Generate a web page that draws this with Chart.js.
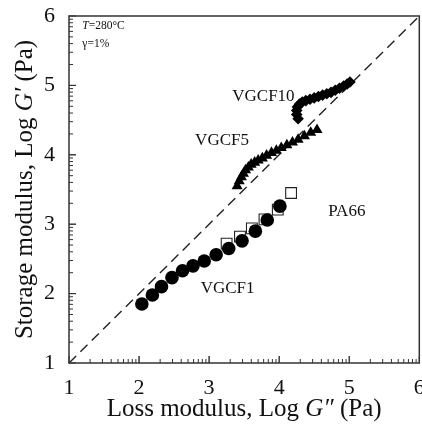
<!DOCTYPE html>
<html>
<head>
<meta charset="utf-8">
<script src="https://cdn.jsdelivr.net/npm/chart.js@4.4.1/dist/chart.umd.min.js"></script>
<style>
  html, body { margin: 0; padding: 0; background: #fff; overflow: hidden; }
  #wrap { width: 422px; height: 424px; overflow: hidden; }
  canvas { display: block; }
</style>
</head>
<body>
<div id="wrap"><canvas id="c" width="428" height="424"></canvas></div>
<script>
// log G'' (x) vs log G' (y)
const vgcf1X = [2.04, 2.19, 2.32, 2.47, 2.62, 2.77, 2.93, 3.10, 3.28, 3.47, 3.66, 3.83, 4.01]
const vgcf1Y = [1.85, 1.98, 2.10, 2.23, 2.33, 2.40, 2.47, 2.56, 2.65, 2.76, 2.90, 3.06, 3.26]

const pa66X = [3.25, 3.44, 3.61, 3.79, 3.98, 4.17]
const pa66Y = [2.72, 2.82, 2.94, 3.07, 3.21, 3.45]

const vgcf5X = [3.40, 3.43, 3.46, 3.49, 3.52, 3.56, 3.60, 3.65, 3.70, 3.76, 3.82, 3.89, 3.96, 4.03, 4.11, 4.19, 4.27, 4.36, 4.45, 4.54]
const vgcf5Y = [3.55, 3.62, 3.68, 3.73, 3.78, 3.82, 3.86, 3.89, 3.92, 3.95, 3.99, 4.03, 4.06, 4.10, 4.14, 4.18, 4.22, 4.27, 4.32, 4.36]

const vgcf10X = [4.27, 4.25, 4.25, 4.26, 4.29, 4.33, 4.38, 4.44, 4.50, 4.56, 4.62, 4.68, 4.74, 4.80, 4.86, 4.92, 4.97, 5.01]
const vgcf10Y = [4.52, 4.58, 4.64, 4.69, 4.73, 4.76, 4.78, 4.80, 4.82, 4.84, 4.86, 4.88, 4.90, 4.93, 4.96, 4.99, 5.02, 5.05]

const axisMin = 1
const axisMax = 6
const tickValues = [1, 2, 3, 4, 5, 6]

const notes = [
  { text: 'VGCF10', x: 3.33, y: 4.84 },
  { text: 'VGCF5', x: 2.80, y: 4.21 },
  { text: 'PA66', x: 4.70, y: 3.18 },
  { text: 'VGCF1', x: 2.88, y: 2.08 }
]

const serif = '"Liberation Serif", "DejaVu Serif", serif'

const pts = (xs, ys) => xs.map((x, i) => ({ x: x, y: ys[i] }))

// frame, inner log-style ticks, axis titles and notes
const decor = {
  id: 'decor',
  afterDraw(chart) {
    const ctx = chart.ctx
    const a = chart.chartArea
    const sx = chart.scales.x, sy = chart.scales.y
    ctx.save()
    ctx.strokeStyle = '#333'
    ctx.lineWidth = 1.5
    ctx.strokeRect(a.left, a.top, a.right - a.left, a.bottom - a.top)

    ctx.lineWidth = 1
    for (let d = axisMin; d < axisMax; d++) {
      for (let k = 1; k <= 10; k++) {
        const v = d + Math.log10(k)
        const len = (k === 1 || k === 10) ? 7 : 4
        const px = sx.getPixelForValue(v)
        ctx.beginPath(); ctx.moveTo(px, a.bottom); ctx.lineTo(px, a.bottom - len); ctx.stroke()
        const py = sy.getPixelForValue(v)
        ctx.beginPath(); ctx.moveTo(a.left, py); ctx.lineTo(a.left + len, py); ctx.stroke()
      }
    }

    ctx.fillStyle = '#111'
    ctx.textBaseline = 'middle'
    ctx.textAlign = 'left'
    ctx.font = '17px ' + serif
    notes.forEach(n => ctx.fillText(n.text, sx.getPixelForValue(n.x), sy.getPixelForValue(n.y)))

    // test conditions
    const tx = sx.getPixelForValue(1.19)
    ctx.font = 'italic 11.5px ' + serif
    ctx.fillText('T', tx, sy.getPixelForValue(5.86))
    const w = ctx.measureText('T').width
    ctx.font = '11.5px ' + serif
    ctx.fillText('=280\u00B0C', tx + w, sy.getPixelForValue(5.86))
    ctx.fillText('\u03B3=1%', tx, sy.getPixelForValue(5.60))

    // axis titles with italic G
    const drawTitle = (parts, cx, cy) => {
      let total = 0
      parts.forEach(p => { ctx.font = p[1] + '25px ' + serif; total += ctx.measureText(p[0]).width })
      let x0 = cx - total / 2
      parts.forEach(p => {
        ctx.font = p[1] + '25px ' + serif
        ctx.fillText(p[0], x0, cy)
        x0 += ctx.measureText(p[0]).width
      })
    }
    drawTitle([['Loss modulus, Log ', ''], ['G\u2033', 'italic '], [' (Pa)', '']], (a.left + a.right) / 2, 409)
    ctx.translate(25, (a.top + a.bottom) / 2)
    ctx.rotate(-Math.PI / 2)
    drawTitle([['Storage modulus, Log ', ''], ['G\u2032', 'italic '], [' (Pa)', '']], 0, 0)
    ctx.restore()
  }
}

new Chart(document.getElementById('c'), {
  type: 'scatter',
  data: {
    datasets: [
      {
        label: 'PA66', data: pts(pa66X, pa66Y), order: 5,
        pointStyle: 'rect', pointRadius: 7.6, borderWidth: 1.1,
        borderColor: '#222', backgroundColor: '#fff'
      },
      {
        label: 'VGCF1', data: pts(vgcf1X, vgcf1Y), order: 1,
        pointStyle: 'circle', pointRadius: 6.8, borderWidth: 0,
        borderColor: '#000', backgroundColor: '#000'
      },
      {
        label: 'VGCF5', data: pts(vgcf5X, vgcf5Y), order: 2,
        pointStyle: 'triangle', pointRadius: 6.4, borderWidth: 0,
        borderColor: '#000', backgroundColor: '#000'
      },
      {
        label: 'VGCF10', data: pts(vgcf10X, vgcf10Y), order: 3,
        pointStyle: 'rectRot', pointRadius: 5.8, borderWidth: 0,
        borderColor: '#000', backgroundColor: '#000'
      },
      {
        type: 'line', label: 'G\u2032 = G\u2033', order: 6,
        data: [{ x: axisMin, y: axisMin }, { x: axisMax, y: axisMax }],
        borderColor: '#222', borderWidth: 1.4, borderDash: [10, 6],
        pointRadius: 0, fill: false
      }
    ]
  },
  options: {
    responsive: false,
    animation: false,
    layout: { padding: { top: 16, right: 0, left: 0, bottom: 0 } },
    plugins: { legend: { display: false }, tooltip: { enabled: false } },
    scales: {
      x: {
        type: 'linear', min: axisMin, max: axisMax,
        afterBuildTicks: s => { s.ticks = tickValues.map(v => ({ value: v })) },
        afterFit: s => { s.height = 61; s.paddingLeft = 0; s.paddingRight = 0 },
        grid: { display: false, drawTicks: false },
        border: { display: false },
        ticks: { color: '#111', font: { family: serif, size: 22 }, padding: 12, maxRotation: 0 }
      },
      y: {
        type: 'linear', min: axisMin, max: axisMax,
        afterBuildTicks: s => { s.ticks = tickValues.map(v => ({ value: v })) },
        afterFit: s => { s.width = 69; s.paddingTop = 0; s.paddingBottom = 0 },
        grid: { display: false, drawTicks: false },
        border: { display: false },
        ticks: { color: '#111', font: { family: serif, size: 22 }, padding: 14 }
      }
    }
  },
  plugins: [decor]
})
</script>
</body>
</html>
